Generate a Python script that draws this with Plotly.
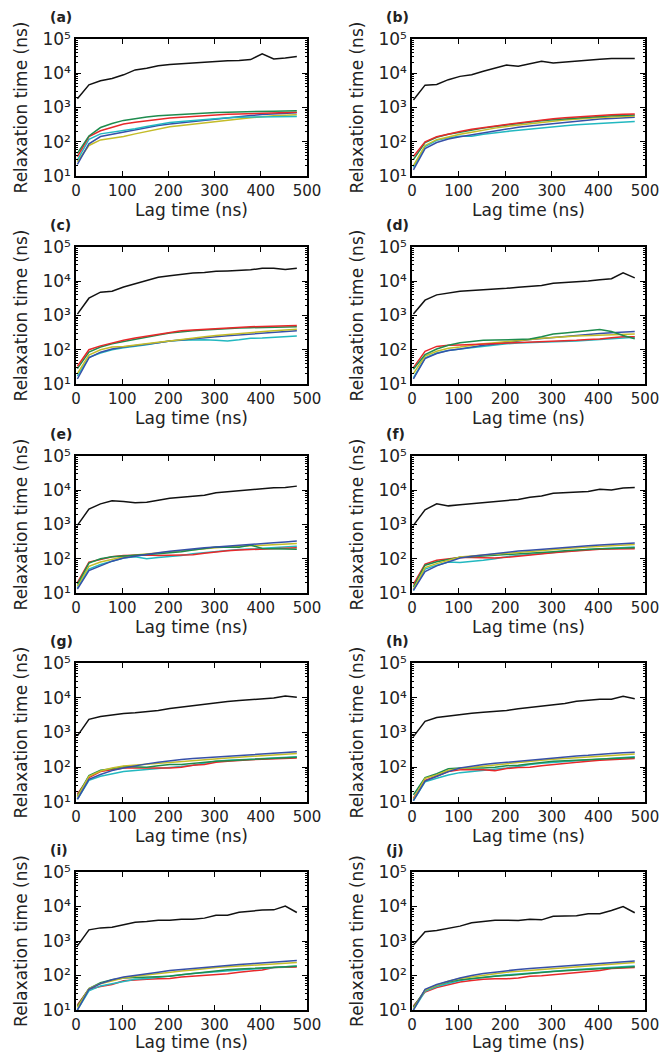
import plotly.graph_objects as go

lag_times = [3, 28, 53, 78, 103, 128, 153, 178, 203, 228, 253, 278, 303, 328, 353, 378, 403, 428, 453, 478]
panel_labels = ["(a)", "(b)", "(c)", "(d)", "(e)", "(f)", "(g)", "(h)", "(i)", "(j)"]
y_tick_vals = [10, 100, 1000, 10000, 100000]
y_tick_text = ["10¹", "10²", "10³", "10⁴", "10⁵"]
x_tick_vals = [0, 100, 200, 300, 400, 500]

# panel (a)
a_black = [1800, 4600, 6000, 7000, 9000, 12500, 14000, 16500, 18000, 19000, 20000, 21500, 22500, 23000, 23500, 25000, 37000, 26000, 28000, 31000]
a_green = [46, 148, 260, 340, 420, 480, 530, 570, 600, 640, 670, 690, 710, 730, 750, 760, 770, 780, 790, 800]
a_red = [37, 142, 210, 270, 330, 370, 410, 450, 490, 520, 550, 580, 610, 630, 650, 670, 690, 700, 710, 730]
a_cyan = [29, 117, 170, 190, 210, 240, 280, 320, 365, 390, 420, 450, 480, 500, 520, 530, 540, 545, 548, 550]
a_blue = [22, 87, 142, 165, 187, 220, 260, 300, 330, 360, 390, 420, 460, 500, 540, 580, 620, 650, 680, 700]
a_yellow = [26, 78, 113, 128, 142, 170, 200, 240, 275, 300, 330, 360, 390, 420, 460, 500, 540, 570, 590, 610]

# panel (b)
b_black = [1650, 4500, 4700, 6500, 8100, 9000, 11500, 14000, 17300, 16000, 19000, 22300, 20000, 21000, 22500, 24000, 25500, 27000, 26500, 27000]
b_green = [30, 95, 135, 165, 190, 220, 250, 280, 310, 340, 370, 410, 440, 470, 500, 520, 550, 570, 590, 600]
b_red = [37, 100, 140, 170, 200, 230, 260, 290, 320, 350, 390, 430, 470, 500, 530, 560, 590, 610, 630, 650]
b_cyan = [18, 72, 110, 130, 145, 145, 165, 185, 200, 215, 235, 255, 275, 295, 315, 330, 350, 365, 380, 390]
b_blue = [15, 63, 95, 120, 140, 160, 185, 210, 240, 265, 290, 315, 340, 370, 400, 430, 460, 480, 500, 520]
b_yellow = [20, 78, 115, 140, 165, 190, 220, 250, 280, 310, 340, 370, 400, 430, 460, 490, 510, 530, 550, 560]

# panel (c)
c_black = [1100, 3200, 4800, 5100, 6800, 8500, 10500, 13000, 14500, 16000, 17500, 18000, 19500, 20000, 20500, 21500, 24000, 24000, 22000, 24000]
c_green = [28, 85, 120, 150, 175, 205, 235, 270, 310, 340, 360, 380, 400, 415, 430, 440, 450, 460, 465, 470]
c_red = [33, 100, 130, 160, 190, 220, 250, 290, 330, 360, 380, 400, 420, 440, 460, 470, 480, 490, 500, 510]
c_cyan = [17, 60, 80, 100, 115, 125, 140, 160, 180, 190, 195, 195, 190, 180, 195, 215, 220, 230, 240, 250]
c_blue = [14, 58, 85, 105, 120, 130, 145, 160, 180, 195, 210, 225, 240, 255, 270, 285, 300, 320, 340, 360]
c_yellow = [20, 70, 100, 120, 125, 135, 150, 165, 180, 200, 220, 240, 260, 280, 300, 320, 340, 360, 380, 400]

# panel (d)
d_black = [1100, 2800, 4000, 4600, 5100, 5400, 5600, 5800, 6200, 6700, 7100, 7500, 8800, 9100, 9400, 10200, 11000, 11800, 17500, 12500]
d_green = [27, 72, 105, 135, 160, 175, 190, 192, 195, 200, 205, 240, 290, 310, 330, 360, 390, 340, 260, 210]
d_red = [30, 90, 125, 135, 138, 142, 148, 155, 160, 165, 168, 170, 172, 180, 190, 200, 205, 225, 240, 240]
d_cyan = [15, 58, 80, 95, 105, 115, 125, 140, 150, 158, 162, 165, 165, 170, 180, 190, 200, 210, 220, 230]
d_blue = [14, 55, 78, 95, 105, 120, 135, 148, 160, 180, 200, 215, 230, 250, 265, 280, 300, 315, 330, 340]
d_yellow = [20, 65, 90, 110, 120, 135, 150, 160, 170, 185, 200, 215, 230, 240, 250, 260, 270, 280, 285, 290]

# panel (e)
e_black = [940, 2800, 4000, 4900, 4700, 4300, 4500, 5200, 5800, 6200, 6800, 7100, 8500, 9000, 9400, 9900, 11000, 11800, 12000, 13200]
e_green = [18, 75, 100, 115, 120, 125, 132, 140, 150, 160, 180, 200, 220, 218, 215, 250, 200, 195, 195, 190]
e_red = [20, 80, 95, 115, 125, 128, 128, 125, 125, 125, 130, 145, 160, 170, 180, 185, 190, 200, 205, 210]
e_cyan = [14, 50, 68, 85, 105, 115, 100, 108, 115, 125, 140, 152, 165, 175, 185, 192, 200, 210, 220, 230]
e_blue = [13, 45, 62, 85, 105, 120, 135, 150, 165, 180, 195, 208, 220, 235, 250, 265, 280, 295, 310, 330]
e_yellow = [16, 60, 80, 98, 115, 128, 138, 148, 158, 170, 185, 198, 210, 220, 230, 240, 250, 260, 270, 280]

# panel (f)
f_black = [940, 2700, 4000, 3500, 3800, 4100, 4300, 4700, 5000, 5400, 6200, 6800, 8200, 8600, 8900, 9200, 10700, 10200, 11600, 12000]
f_green = [15, 65, 82, 95, 110, 115, 120, 125, 130, 138, 145, 152, 160, 170, 180, 188, 195, 200, 205, 210]
f_red = [18, 70, 90, 100, 108, 108, 105, 105, 110, 120, 128, 138, 150, 160, 170, 180, 190, 192, 195, 195]
f_cyan = [12, 50, 65, 80, 78, 82, 90, 100, 115, 125, 135, 145, 155, 165, 175, 185, 195, 205, 212, 220]
f_blue = [12, 42, 62, 80, 105, 118, 130, 142, 155, 168, 178, 190, 200, 212, 225, 238, 250, 262, 275, 290]
f_yellow = [13, 55, 72, 90, 112, 120, 128, 138, 150, 160, 170, 180, 190, 200, 210, 220, 230, 240, 250, 260]

# panel (g)
g_black = [800, 2400, 2900, 3250, 3500, 3700, 4000, 4300, 4900, 5400, 6100, 6700, 7300, 7800, 8300, 8700, 9500, 9800, 11300, 10300]
g_green = [15, 58, 82, 90, 105, 105, 100, 110, 120, 120, 130, 140, 150, 155, 160, 165, 175, 180, 188, 195]
g_red = [17, 50, 75, 85, 95, 95, 95, 95, 95, 100, 115, 120, 140, 150, 160, 165, 170, 175, 180, 185]
g_cyan = [12, 42, 55, 65, 75, 80, 85, 90, 95, 105, 115, 130, 150, 158, 165, 170, 175, 182, 190, 200]
g_blue = [12, 45, 62, 80, 95, 110, 125, 140, 155, 168, 178, 188, 200, 210, 220, 230, 240, 255, 270, 280]
g_yellow = [14, 55, 78, 95, 108, 115, 125, 132, 140, 150, 160, 168, 175, 185, 195, 205, 215, 225, 238, 250]

# panel (h)
h_black = [760, 2100, 2700, 3000, 3200, 3600, 3800, 4000, 4300, 4800, 5300, 5800, 6300, 6800, 7900, 8500, 9100, 9100, 11000, 9300]
h_green = [16, 50, 65, 90, 95, 95, 95, 100, 110, 115, 125, 135, 150, 155, 160, 165, 170, 175, 182, 190]
h_red = [13, 42, 55, 75, 85, 85, 85, 80, 92, 98, 100, 110, 120, 130, 140, 150, 160, 168, 175, 180]
h_cyan = [11, 38, 48, 60, 70, 75, 80, 88, 95, 105, 120, 130, 140, 150, 155, 162, 170, 180, 190, 200]
h_blue = [11, 40, 55, 75, 95, 108, 120, 130, 140, 150, 162, 175, 190, 200, 210, 220, 240, 250, 260, 270]
h_yellow = [12, 48, 60, 82, 92, 100, 110, 120, 130, 140, 150, 160, 170, 180, 190, 200, 210, 220, 230, 240]

# panel (i)
i_black = [720, 2100, 2400, 2500, 2950, 3500, 3700, 4000, 4000, 4300, 4300, 4600, 5600, 5600, 6800, 7300, 7900, 8000, 10300, 6700]
i_green = [13, 42, 62, 75, 85, 88, 90, 92, 95, 105, 115, 125, 140, 148, 155, 160, 165, 172, 180, 185]
i_red = [14, 40, 48, 55, 70, 75, 78, 80, 82, 90, 95, 100, 110, 112, 125, 135, 145, 170, 175, 175]
i_cyan = [10, 36, 50, 58, 70, 78, 82, 88, 95, 105, 115, 122, 130, 140, 148, 155, 160, 170, 180, 190]
i_blue = [10, 40, 58, 75, 90, 102, 115, 125, 140, 150, 162, 175, 190, 200, 210, 220, 230, 240, 255, 270]
i_yellow = [12, 42, 58, 72, 85, 95, 105, 115, 125, 135, 145, 158, 170, 178, 185, 192, 200, 215, 228, 240]

# panel (j)
j_black = [760, 1850, 2000, 2350, 2700, 3400, 3700, 4000, 4000, 3900, 4300, 4100, 5200, 5300, 5400, 6200, 6200, 7700, 10000, 6600]
j_green = [12, 38, 52, 65, 75, 82, 88, 95, 100, 108, 115, 122, 130, 138, 145, 152, 160, 168, 175, 180]
j_red = [13, 33, 45, 55, 65, 72, 78, 80, 80, 85, 95, 98, 105, 110, 120, 130, 140, 160, 168, 170]
j_cyan = [10, 35, 48, 60, 72, 80, 88, 95, 105, 110, 118, 125, 135, 142, 150, 158, 165, 172, 182, 190]
j_blue = [10, 40, 55, 70, 85, 100, 115, 125, 140, 150, 160, 170, 180, 190, 200, 210, 220, 235, 250, 265]
j_yellow = [11, 38, 52, 68, 82, 92, 102, 112, 125, 132, 140, 150, 160, 170, 180, 190, 200, 212, 225, 240]

panels = [
    [a_black, a_yellow, a_blue, a_cyan, a_red, a_green],
    [b_black, b_cyan, b_blue, b_yellow, b_green, b_red],
    [c_black, c_cyan, c_blue, c_yellow, c_green, c_red],
    [d_black, d_cyan, d_blue, d_yellow, d_red, d_green],
    [e_black, e_cyan, e_yellow, e_red, e_green, e_blue],
    [f_black, f_cyan, f_red, f_green, f_yellow, f_blue],
    [g_black, g_cyan, g_red, g_green, g_yellow, g_blue],
    [h_black, h_cyan, h_red, h_green, h_yellow, h_blue],
    [i_black, i_red, i_cyan, i_green, i_yellow, i_blue],
    [j_black, j_red, j_cyan, j_green, j_yellow, j_blue],
]
panel_colors = [
    ["#111111", "#c4bc28", "#3650a8", "#22b8c0", "#e8282a", "#1e8c4e"],
    ["#111111", "#22b8c0", "#3650a8", "#c4bc28", "#1e8c4e", "#e8282a"],
    ["#111111", "#22b8c0", "#3650a8", "#c4bc28", "#1e8c4e", "#e8282a"],
    ["#111111", "#22b8c0", "#3650a8", "#c4bc28", "#e8282a", "#1e8c4e"],
    ["#111111", "#22b8c0", "#c4bc28", "#e8282a", "#1e8c4e", "#3650a8"],
    ["#111111", "#22b8c0", "#e8282a", "#1e8c4e", "#c4bc28", "#3650a8"],
    ["#111111", "#22b8c0", "#e8282a", "#1e8c4e", "#c4bc28", "#3650a8"],
    ["#111111", "#22b8c0", "#e8282a", "#1e8c4e", "#c4bc28", "#3650a8"],
    ["#111111", "#e8282a", "#22b8c0", "#1e8c4e", "#c4bc28", "#3650a8"],
    ["#111111", "#e8282a", "#22b8c0", "#1e8c4e", "#c4bc28", "#3650a8"],
]

W, H = 664, 1052
col_px = [(76, 307), (412, 645)]
row_px = [(39, 176), (247, 384), (456, 593), (663, 802), (872, 1010)]

minor_y = []
for dec in [10, 100, 1000, 10000]:
    for k in range(2, 10):
        minor_y.append(dec * k)

fig = go.Figure()
font_family = "DejaVu Sans"
text_color = "#222222"

for idx in range(10):
    r, c = divmod(idx, 2)
    n = idx + 1
    xs = "" if n == 1 else str(n)
    xd = [col_px[c][0] / W, col_px[c][1] / W]
    yd = [1 - row_px[r][1] / H, 1 - row_px[r][0] / H]
    for series, color in zip(panels[idx], panel_colors[idx]):
        fig.add_trace(go.Scatter(
            x=lag_times, y=series, mode="lines",
            line=dict(color=color, width=1.5),
            xaxis="x" + xs, yaxis="y" + xs, showlegend=False,
            hoverinfo="x+y",
        ))
    fig.layout["xaxis" + xs] = dict(
        domain=xd, anchor="y" + xs, range=[0, 500], automargin=False,
        tickvals=x_tick_vals, ticks="inside", ticklen=5, tickwidth=1, tickcolor="black",
        showline=True, linecolor="black", linewidth=1.5, mirror="ticks",
        showgrid=False, zeroline=False,
        tickfont=dict(family=font_family, size=15, color=text_color),
        title=dict(text="Lag time (ns)", standoff=2,
                   font=dict(family=font_family, size=17, color=text_color)),
    )
    fig.layout["yaxis" + xs] = dict(
        domain=yd, anchor="x" + xs, type="log", range=[1, 5], automargin=False,
        tickvals=y_tick_vals, ticktext=y_tick_text,
        ticks="inside", ticklen=5, tickwidth=1, tickcolor="black",
        minor=dict(tickvals=minor_y, ticks="inside", ticklen=2.5, tickwidth=1, tickcolor="black"),
        showline=True, linecolor="black", linewidth=1.5, mirror="ticks",
        showgrid=False, zeroline=False,
        tickfont=dict(family=font_family, size=17, color=text_color),
        title=dict(text="Relaxation time (ns)", standoff=10,
                   font=dict(family=font_family, size=17, color=text_color)),
    )
    fig.add_annotation(
        text="<b>" + panel_labels[idx] + "</b>",
        xref="paper", yref="paper",
        x=(col_px[c][0] - 28) / W, y=1 - (row_px[r][0] - 22) / H,
        xanchor="left", yanchor="middle", showarrow=False,
        font=dict(family=font_family, size=14, color=text_color),
    )

fig.update_layout(
    width=W, height=H, margin=dict(l=0, r=0, t=0, b=0, autoexpand=False),
    paper_bgcolor="white", plot_bgcolor="white",
)

fig.write_html("out.html", config={"displayModeBar": False},
               post_script="document.body.style.margin='0';")
